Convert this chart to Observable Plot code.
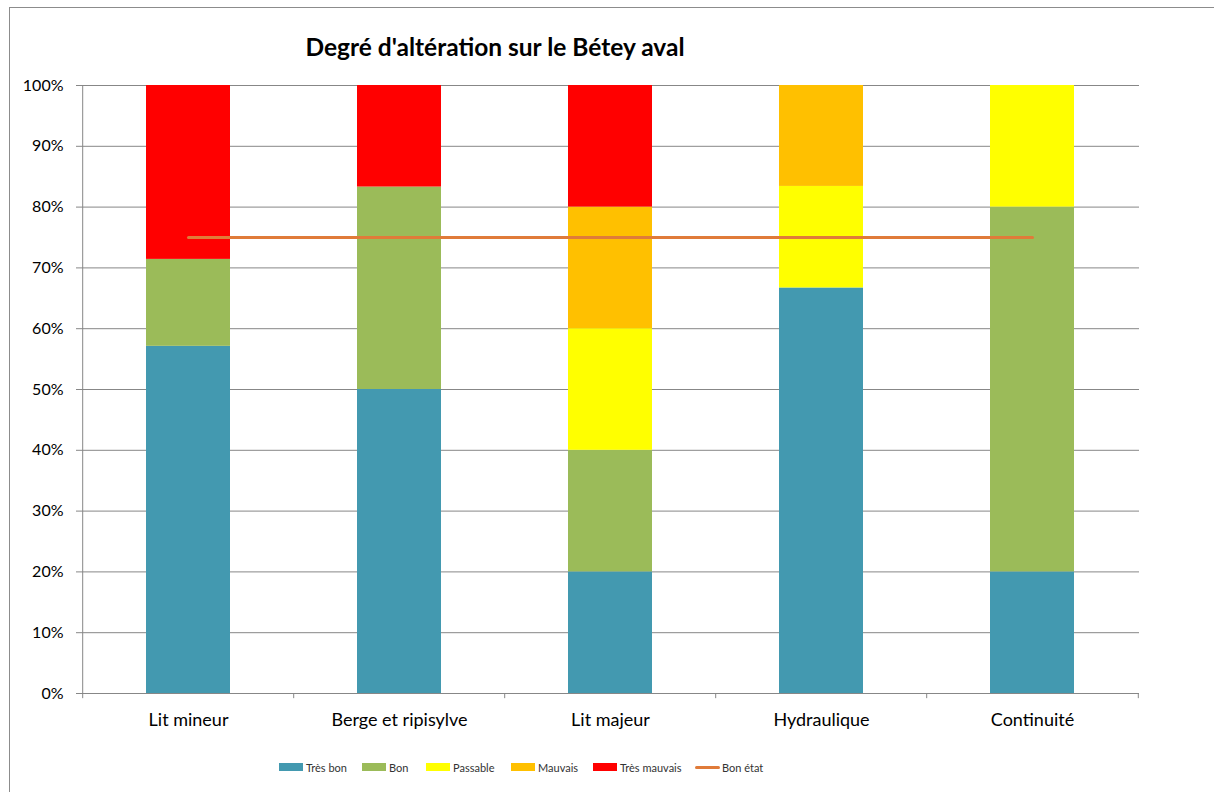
<!DOCTYPE html>
<html>
<head>
<meta charset="utf-8">
<script src="https://cdn.jsdelivr.net/npm/d3@7"></script>
<script src="https://cdn.jsdelivr.net/npm/@observablehq/plot@0.6"></script>
<style>
  html, body { margin: 0; padding: 0; background: #fff; }
  #wrap { position: relative; width: 1214px; height: 792px; overflow: hidden; font-family: Lato, "Open Sans", sans-serif; }
  #frame { position: absolute; left: 9px; top: 7px; width: 1300px; height: 900px; border: 1.5px solid #8c8c8c; box-sizing: border-box; }
  #title { position: absolute; left: 0; width: 990px; top: 32px; text-align: center; font-weight: bold; font-size: 24.5px; color: #000; }
  #chart { position: absolute; left: 0; top: 0; }
  #legend { position: absolute; top: 759px; left: 0; width: 1214px; height: 18px; font-size: 11px; color: #333; }
  .item { position: absolute; top: 0; display: flex; align-items: center; height: 16px; }
  .sw { width: 24px; height: 8px; margin-right: 3px; }
  .ln { width: 25px; height: 3px; border-radius: 2px; margin-right: 2px; }
</style>
</head>
<body>
<div id="wrap">
  <div id="frame"></div>
  <div id="title">Degré d'altération sur le Bétey aval</div>
  <div id="chart"></div>
  <div id="legend"></div>
</div>
<script>
const categories = ["Lit mineur", "Berge et ripisylve", "Lit majeur", "Hydraulique", "Continuité"];
const seriesNames = ["Très bon", "Bon", "Passable", "Mauvais", "Très mauvais"];
const seriesColors = ["#4399B0", "#9BBB59", "#FFFF00", "#FFC000", "#FF0000"];
const tresBon     = [57.1, 50.0, 20.0, 66.7, 20.0];
const bon         = [14.3, 33.3, 20.0,  0.0, 60.0];
const passable    = [ 0.0,  0.0, 20.0, 16.7, 20.0];
const mauvais     = [ 0.0,  0.0, 20.0, 16.6,  0.0];
const tresMauvais = [28.6, 16.7, 20.0,  0.0,  0.0];
const bonEtat     = [75, 75, 75, 75, 75];
const bonEtatName = "Bon état";
const bonEtatColor = "#E07B39";
const yTicks = [0, 10, 20, 30, 40, 50, 60, 70, 80, 90, 100];

const seriesValues = [tresBon, bon, passable, mauvais, tresMauvais];
const rows = [];
seriesNames.forEach((s, si) => {
  categories.forEach((c, ci) => {
    rows.push({cat: c, serie: s, value: seriesValues[si][ci]});
  });
});
const lineRows = categories.map((c, i) => ({cat: c, value: bonEtat[i]}));

const W = 1214, H = 740;
const mL = 81, mR = 75, mT = 85, mB = 47;
const step = (W - mL - mR) / categories.length;

const plot = Plot.plot({
  width: W,
  height: H,
  marginLeft: mL,
  marginRight: mR,
  marginTop: mT,
  marginBottom: mB,
  style: {fontFamily: "Lato, 'Open Sans', sans-serif", fontSize: "16px", color: "#000", background: "transparent"},
  x: {domain: categories, paddingInner: 0.6, paddingOuter: 0.3, label: null},
  y: {domain: [0, 100], label: null},
  color: {domain: seriesNames, range: seriesColors},
  marks: [
    Plot.ruleY(yTicks.filter(d => d > 0), {stroke: "#878787", strokeWidth: 1}),
    Plot.barY(rows, {x: "cat", y: "value", fill: "serie", order: seriesNames}),
    Plot.lineY(lineRows, {x: "cat", y: "value", stroke: bonEtatColor, strokeWidth: 3, strokeLinecap: "round"}),
    Plot.ruleY([0], {stroke: "#878787", strokeWidth: 1}),
    Plot.axisY({ticks: yTicks, tickFormat: d => d + "%", tickSize: 5, tickPadding: 13, stroke: "#878787", fontSize: 16, color: "#000"}),
    Plot.axisX({tickSize: 0, tickPadding: 20, fontSize: 18}),
    Plot.ruleX(categories, {x: d => d, dx: -step / 2, y1: 0, y2: -0.85, stroke: "#878787"}),
    Plot.ruleX([categories[categories.length - 1]], {x: d => d, dx: step / 2, y1: 0, y2: -0.85, stroke: "#878787"}),
    Plot.ruleX([categories[0]], {x: d => d, dx: -step / 2, y1: 0, y2: 100, stroke: "#878787"})
  ]
});
document.getElementById("chart").appendChild(plot);

// Legend
const legend = document.getElementById("legend");
const legendX = [279, 362, 426, 511, 593];
seriesNames.forEach((s, i) => {
  const it = document.createElement("div");
  it.className = "item";
  it.style.left = legendX[i] + "px";
  it.innerHTML = `<span class="sw" style="background:${seriesColors[i]}"></span><span>${s}</span>`;
  legend.appendChild(it);
});
const li = document.createElement("div");
li.className = "item";
li.style.left = "695px";
li.innerHTML = `<span class="ln" style="background:${bonEtatColor}"></span><span>${bonEtatName}</span>`;
legend.appendChild(li);
</script>
</body>
</html>
